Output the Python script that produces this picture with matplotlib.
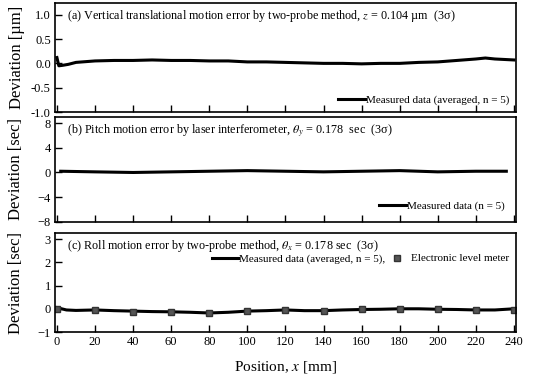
import matplotlib
matplotlib.use("Agg")
import matplotlib.pyplot as plt

plt.rcParams['font.family'] = ['Liberation Serif', 'DejaVu Serif']
plt.rcParams['mathtext.fontset'] = 'stix'

# ---- data ----
x_a = [0, 1, 3, 6, 10, 20, 30, 40, 50, 60, 70, 80, 90, 100, 110, 120, 130,
       140, 150, 160, 170, 180, 190, 200, 210, 220, 225, 230, 240]
y_a = [0.12, -0.05, -0.04, -0.02, 0.02, 0.05, 0.06, 0.06, 0.07, 0.06, 0.06,
       0.05, 0.05, 0.03, 0.03, 0.02, 0.01, 0.0, 0.0, -0.01, 0.0, 0.0, 0.02,
       0.03, 0.06, 0.09, 0.11, 0.09, 0.07]

x_b = [2, 20, 40, 60, 80, 100, 120, 140, 160, 180, 200, 220, 236]
y_b = [0.2, 0.1, 0.0, 0.1, 0.2, 0.3, 0.2, 0.1, 0.2, 0.3, 0.1, 0.2, 0.2]

x_c = [0, 5, 10, 20, 30, 40, 50, 60, 70, 80, 90, 100, 110, 120, 130, 140,
       150, 160, 170, 180, 190, 200, 210, 220, 230, 240]
y_c = [0.05, -0.05, -0.07, -0.05, -0.08, -0.1, -0.12, -0.13, -0.15, -0.18,
       -0.15, -0.1, -0.08, -0.05, -0.08, -0.08, -0.05, -0.03, -0.02, 0.0,
       0.0, -0.02, -0.03, -0.05, -0.05, 0.0]

x_lvl = [0, 20, 40, 60, 80, 100, 120, 140, 160, 180, 200, 220, 240]
y_lvl = [0.0, -0.05, -0.12, -0.15, -0.2, -0.1, -0.05, -0.08, -0.03, 0.0,
         -0.02, -0.07, -0.05]

x_ticks = list(range(0, 241, 20))

fig = plt.figure(figsize=(5.34, 3.76), dpi=100)
left, width = 0.103, 0.863
ax_a = fig.add_axes([left, 0.702, width, 0.290])
ax_b = fig.add_axes([left, 0.410, width, 0.279])
ax_c = fig.add_axes([left, 0.117, width, 0.263])

for ax in (ax_a, ax_b, ax_c):
    ax.set_xlim(-1, 241)
    ax.set_xticks(x_ticks)
    ax.tick_params(direction='in', length=5, width=1, labelsize=9, pad=3)
    for s in ax.spines.values():
        s.set_linewidth(1.2)

# (a)
ax_a.plot(x_a, y_a, color='black', lw=2.2, label='Measured data (averaged, n = 5)')
ax_a.set_ylim(-1.0, 1.24)
ax_a.set_yticks([-1.0, -0.5, 0.0, 0.5, 1.0])
ax_a.set_yticklabels(['-1.0', '-0.5', '0.0', '0.5', '1.0'])
ax_a.tick_params(labelbottom=False)
ax_a.set_ylabel('Deviation [µm]', fontsize=12, labelpad=4)
ax_a.text(0.027, 0.955, r'(a) Vertical translational motion error by two-probe method, $z$ = 0.104 µm  (3σ)',
          transform=ax_a.transAxes, fontsize=8.7, va='top')
ax_a.legend(loc='lower right', frameon=False, fontsize=8, handlelength=2.4,
            handletextpad=0.1, borderaxespad=0.2)

# (b)
ax_b.plot(x_b, y_b, color='black', lw=2.2, label='Measured data (n = 5)')
ax_b.set_ylim(-8, 9)
ax_b.set_yticks([-8, -4, 0, 4, 8])
ax_b.tick_params(labelbottom=False)
ax_b.set_ylabel('Deviation [sec]', fontsize=12, labelpad=10)
ax_b.text(0.027, 0.955, r'(b) Pitch motion error by laser interferometer, $\theta_y$ = 0.178  sec  (3σ)',
          transform=ax_b.transAxes, fontsize=8.7, va='top')
ax_b.legend(loc='lower right', frameon=False, fontsize=8, handlelength=2.4,
            handletextpad=0.1, borderaxespad=0.6)

# (c)
ax_c.plot(x_c, y_c, color='black', lw=2.2, label='Measured data (averaged, n = 5),')
ax_c.plot(x_lvl, y_lvl, ls='none', marker='s', ms=4, color='#555555',
          mec='#333333', label='Electronic level meter')
ax_c.set_ylim(-1, 3.26)
ax_c.set_yticks([-1, 0, 1, 2, 3])
ax_c.set_ylabel('Deviation [sec]', fontsize=12, labelpad=10)
ax_c.set_xlabel(r'Position, $x$ [mm]', fontsize=11, labelpad=8)
ax_c.text(0.027, 0.955, r'(c) Roll motion error by two-probe method, $\theta_x$ = 0.178 sec  (3σ)',
          transform=ax_c.transAxes, fontsize=8.7, va='top')
ax_c.legend(loc='upper right', bbox_to_anchor=(1.0, 0.86), frameon=False, fontsize=8,
            ncol=2, handlelength=2.4, handletextpad=0.1, columnspacing=-0.2,
            borderaxespad=0.2)

fig.savefig('out.png', dpi=100)
